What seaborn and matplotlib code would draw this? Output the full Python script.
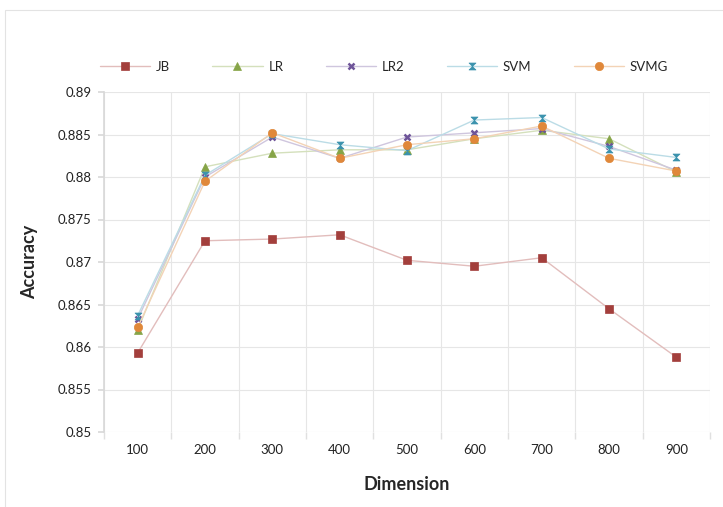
import numpy as np
import pandas as pd
import seaborn as sns
import matplotlib.pyplot as plt
from matplotlib.path import Path
from matplotlib.patches import Rectangle

dims = ["100", "200", "300", "400", "500", "600", "700", "800", "900"]
jb = [0.8593, 0.8725, 0.8727, 0.8732, 0.8702, 0.8695, 0.8705, 0.8645, 0.8588]
lr = [0.8620, 0.8812, 0.8828, 0.8832, 0.8832, 0.8845, 0.8855, 0.8845, 0.8806]
lr2 = [0.8633, 0.8800, 0.8847, 0.8822, 0.8847, 0.8852, 0.8857, 0.8836, 0.8808]
svm = [0.8637, 0.8802, 0.8851, 0.8838, 0.8831, 0.8867, 0.8870, 0.8833, 0.8823]
svmg = [0.8623, 0.8795, 0.8852, 0.8822, 0.8838, 0.8845, 0.8860, 0.8822, 0.8807]
series = ["JB", "LR", "LR2", "SVM", "SVMG"]

dark = {"JB": "#A33F3C", "LR": "#86A447", "LR2": "#6E5499", "SVM": "#3A92AD", "SVMG": "#E0883A"}
pale = {"JB": "#E2BDBC", "LR": "#D4E0BC", "LR2": "#CFC6DE", "SVM": "#BBDCE6", "SVMG": "#F3D3B6"}
hourglass = Path([(-1, 1), (1, 1), (-1, -1), (1, -1), (-1, 1)],
                 [Path.MOVETO, Path.LINETO, Path.LINETO, Path.LINETO, Path.CLOSEPOLY])
markers = {"JB": "s", "LR": "^", "LR2": "x", "SVM": hourglass, "SVMG": "o"}
sizes = {"JB": 5.5, "LR": 6, "LR2": 4.5, "SVM": 5, "SVMG": 6}
edgew = {"JB": 0.5, "LR": 0.5, "LR2": 1.8, "SVM": 0.5, "SVMG": 0.5}

df = pd.DataFrame({"dim": dims * 5,
                   "acc": jb + lr + lr2 + svm + svmg,
                   "model": np.repeat(series, len(dims))})
df["pos"] = df["dim"].map({d: i for i, d in enumerate(dims)})

sns.set_theme(style="white")
plt.rcParams["font.family"] = ["Lato", "DejaVu Sans"]

fig = plt.figure(figsize=(7.23, 5.07), dpi=100)
ax = fig.add_axes([104 / 723, 1 - 432 / 507, 606 / 723, 340 / 507])

for m in series:
    sub = df[df["model"] == m]
    sns.lineplot(data=sub, x="pos", y="acc", ax=ax, color=pale[m], linewidth=1.0,
                 marker=markers[m], markersize=sizes[m], markerfacecolor=dark[m],
                 markeredgecolor=dark[m], markeredgewidth=edgew[m], label=m)

ax.set_xlim(-0.5, len(dims) - 0.5)
ax.set_ylim(0.85, 0.89)
ax.set_yticks(np.arange(0.85, 0.8901, 0.005))
ax.set_yticklabels(["0.85", "0.855", "0.86", "0.865", "0.87", "0.875", "0.88", "0.885", "0.89"])
ax.set_xticks(range(len(dims)))
ax.set_xticklabels(dims)
ax.set_xticks(np.arange(-0.5, len(dims), 1), minor=True)
ax.grid(True, axis="y", color="#E6E6E6", linewidth=0.8)
ax.grid(True, axis="x", which="minor", color="#E6E6E6", linewidth=0.8)
ax.tick_params(axis="x", which="major", length=0, labelsize=9.5, pad=9, colors="#222222")
ax.tick_params(axis="x", which="minor", length=5, color="#E0E0E0", direction="out", bottom=True)
ax.tick_params(axis="y", length=4, color="#D9D9D9", direction="out", left=True, labelsize=9.5,
               pad=5, colors="#222222")
for s in ["top", "right", "bottom"]:
    ax.spines[s].set_visible(False)
ax.spines["left"].set_color("#D9D9D9")
ax.set_xlabel("Dimension", fontsize=13, fontweight="bold", labelpad=14)
ax.set_ylabel("Accuracy", fontsize=13, fontweight="bold", labelpad=14)

leg = ax.legend(loc="center", bbox_to_anchor=(0.462, 1.074), ncol=5, frameon=False,
                handlelength=3.8, columnspacing=3.2, fontsize=9.5, handletextpad=0.45)

# chart-area border (only top/left edges fall inside the image)
fig.patches.append(Rectangle((5 / 723, -0.1), 1.0, 1.1 - 10 / 507, transform=fig.transFigure,
                             fill=False, edgecolor="#E3E3E3", linewidth=0.8))

fig.savefig("out.png", dpi=100)
